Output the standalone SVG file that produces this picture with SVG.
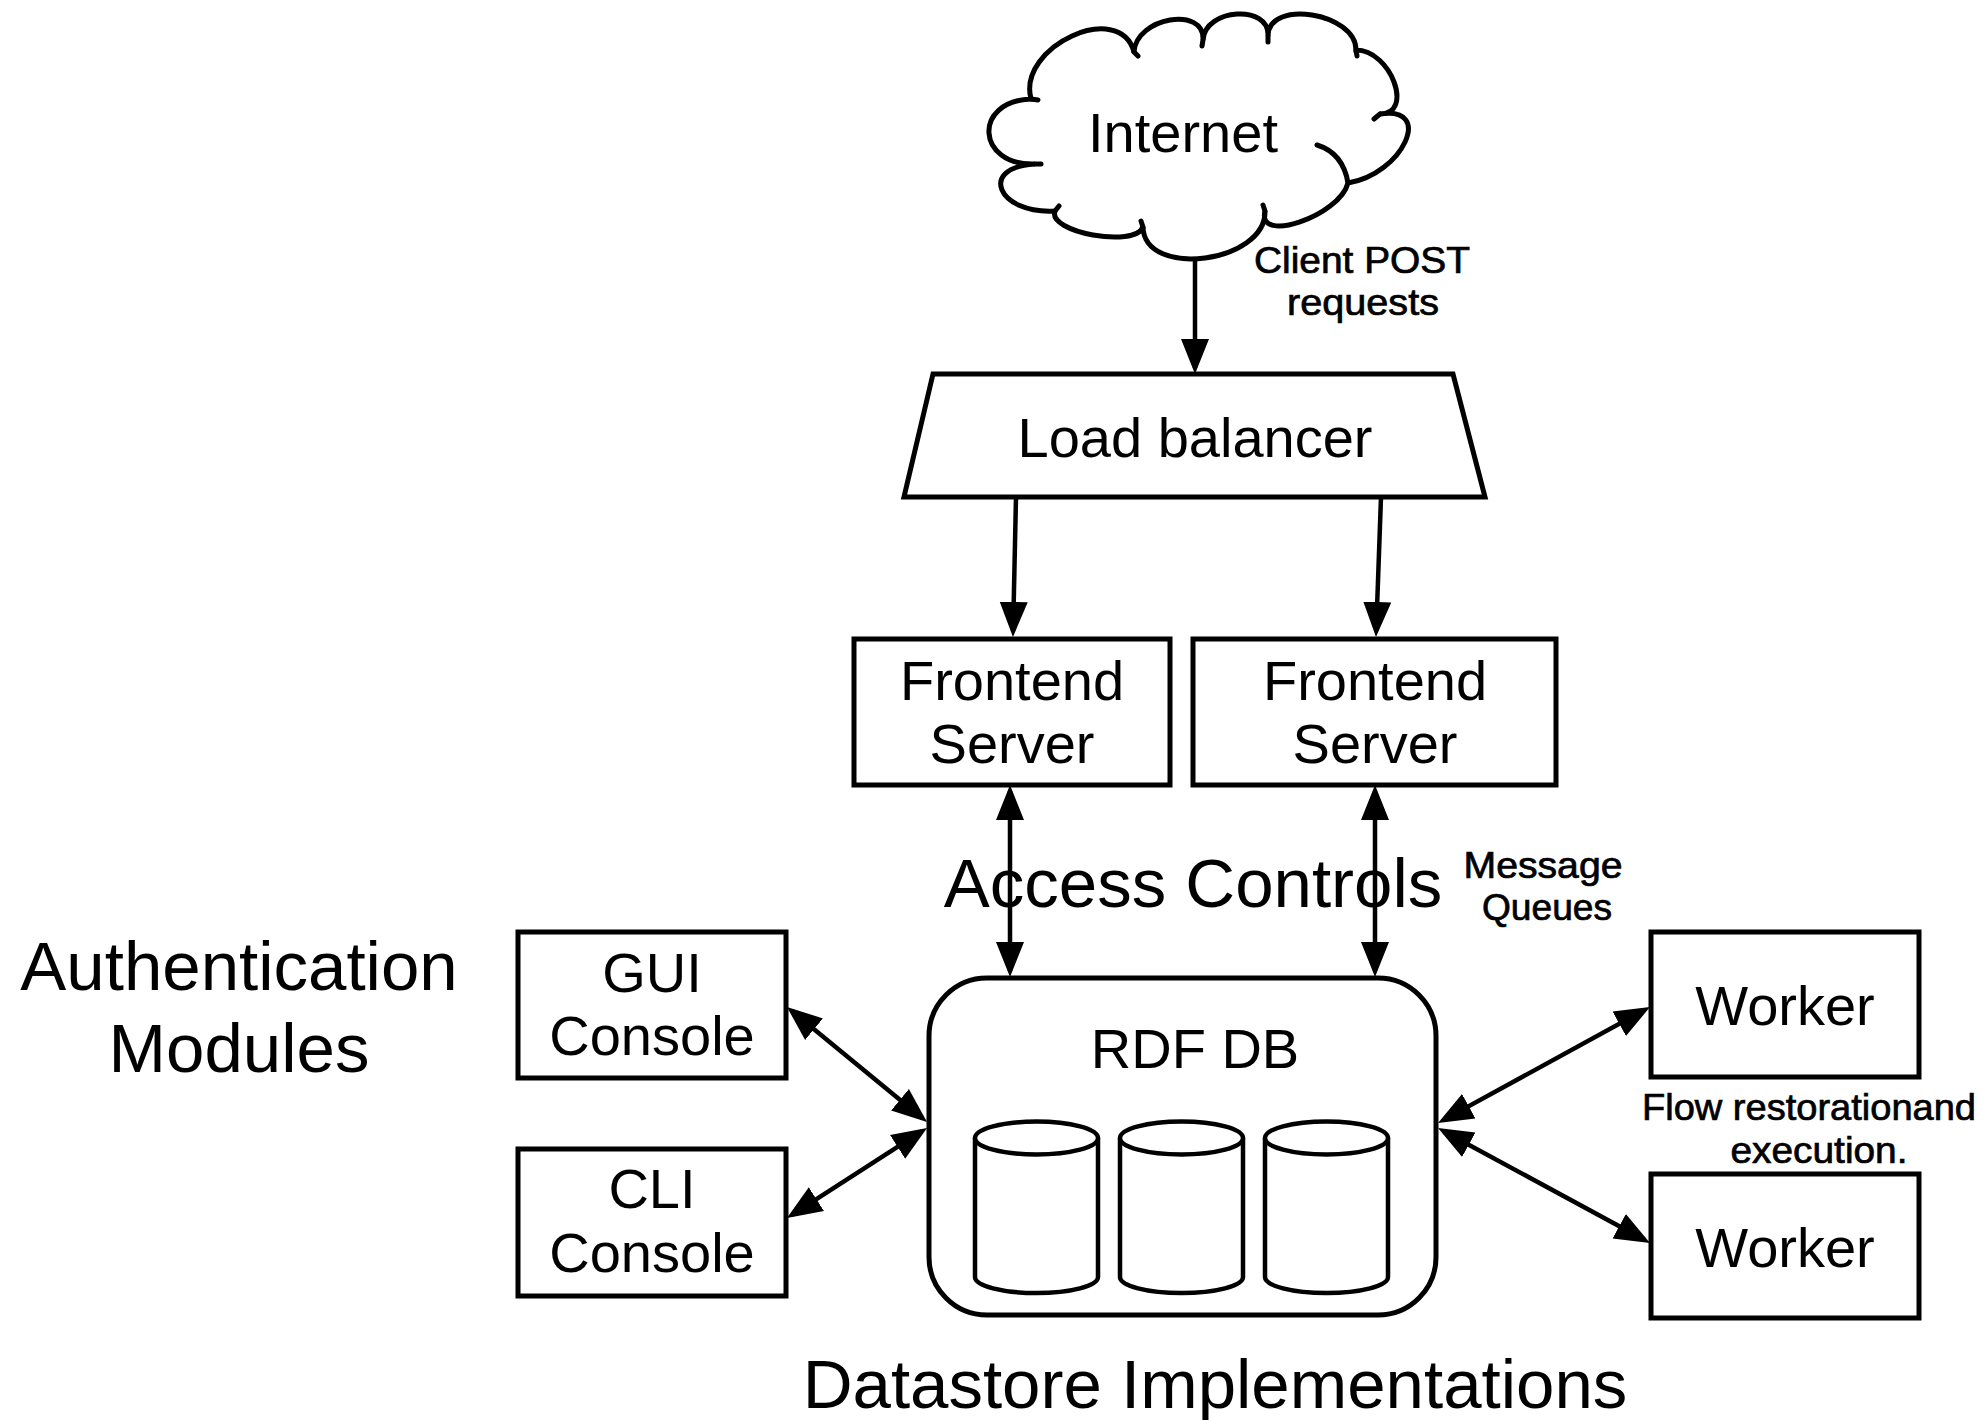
<svg xmlns="http://www.w3.org/2000/svg" width="1985" height="1420" viewBox="0 0 1985 1420">
  <style>
    .box { fill: #fff; stroke: #000; stroke-width: 5; }
    .cyl { fill: #fff; stroke: #000; stroke-width: 4.5; }
    .conn { fill: none; stroke: #000; stroke-width: 4.5; }
    .stub { fill: none; stroke: #000; stroke-width: 5; stroke-linecap: round; }
    text { font-family: "Liberation Sans", Arial, sans-serif; fill: #000; text-anchor: middle; }
    .lbl { font-size: 56px; }
    .note { font-size: 69px; }
    .small { font-size: 36px; stroke: #000; stroke-width: 0.7; }
  </style>
  <defs>
    <marker id="ah" markerUnits="userSpaceOnUse" markerWidth="36" markerHeight="30" viewBox="0 0 36 30" refX="29" refY="15" orient="auto-start-reverse">
      <path d="M0,1 L35,15 L0,29 Z" fill="#000"/>
    </marker>
  </defs>
  <rect width="1985" height="1420" fill="#fff"/>

  <!-- cloud -->
  <g id="internet">
    <path class="box" d="M1031,99 C1017,46.3 1120,-0.7 1134,52 C1136,17.3 1205,5.3 1203,40 C1205,8 1270,4 1268,36 C1268,-1.3 1356,12.7 1356,50 C1390.7,50 1414.7,114 1380,114 C1434.7,105.3 1402.7,174.3 1348,183 C1339.3,216.3 1256.3,244.3 1265,211 C1266.3,263 1144.3,279 1143,227 C1135,248.3 1047,232.3 1055,211 C997.7,214.3 977.7,167.3 1035,164 C976.3,166 972.3,101 1031,99 Z"/>
    <path class="stub" d="M1031,99 l7,1 M1134,52 l4,4 M1203,40 l-1,6 M1268,36 l0,6 M1356,50 l1,6 M1380,114 l-6,5 M1317,145 Q1343,153 1348,183 M1265,211 l-2,-6 M1143,227 l-2,-6 M1055,211 l4,-5 M1035,164 l6,0"/>
    <text class="lbl" x="1183" y="152">Internet</text>
  </g>

  <g id="load-balancer">
    <polygon class="box" points="933,374 1453,374 1485,497 904,497"/>
    <text class="lbl" x="1195" y="457">Load balancer</text>
  </g>

  <g id="frontend-1">
    <rect class="box" x="854" y="639" width="316" height="146"/>
    <text class="lbl" x="1012" y="700">Frontend</text>
    <text class="lbl" x="1012" y="763">Server</text>
  </g>

  <g id="frontend-2">
    <rect class="box" x="1193" y="639" width="363" height="146"/>
    <text class="lbl" x="1375" y="700">Frontend</text>
    <text class="lbl" x="1375" y="763">Server</text>
  </g>

  <g id="gui-console">
    <rect class="box" x="518" y="932" width="268" height="146"/>
    <text class="lbl" x="652" y="992">GUI</text>
    <text class="lbl" x="652" y="1055">Console</text>
  </g>

  <g id="cli-console">
    <rect class="box" x="518" y="1149" width="268" height="147"/>
    <text class="lbl" x="652" y="1208">CLI</text>
    <text class="lbl" x="652" y="1272">Console</text>
  </g>

  <g id="rdf-db">
    <rect class="box" x="929" y="978" width="507" height="337" rx="58" ry="58"/>
    <text class="lbl" x="1195" y="1068">RDF DB</text>
    <path class="cyl" d="M975,1138 V1277 A61.5,16 0 0 0 1098,1277 V1138"/>
    <ellipse class="cyl" cx="1036.5" cy="1138" rx="61.5" ry="16.5"/>
    <path class="cyl" d="M1120,1138 V1277 A61.5,16 0 0 0 1243,1277 V1138"/>
    <ellipse class="cyl" cx="1181.5" cy="1138" rx="61.5" ry="16.5"/>
    <path class="cyl" d="M1265,1138 V1277 A61.5,16 0 0 0 1388,1277 V1138"/>
    <ellipse class="cyl" cx="1326.5" cy="1138" rx="61.5" ry="16.5"/>
  </g>

  <g id="worker-1">
    <rect class="box" x="1651" y="932" width="268" height="145"/>
    <text class="lbl" x="1785" y="1025">Worker</text>
  </g>

  <g id="worker-2">
    <rect class="box" x="1651" y="1174" width="268" height="144"/>
    <text class="lbl" x="1785" y="1267">Worker</text>
  </g>

  <!-- connectors -->
  <g id="connectors">
    <path class="conn" d="M1195,258 L1195,368" marker-end="url(#ah)"/>
    <path class="conn" d="M1016,497 L1013.1,631" marker-end="url(#ah)"/>
    <path class="conn" d="M1381,497 L1376.2,631" marker-end="url(#ah)"/>
    <path class="conn" d="M1010,791 L1010,971" marker-start="url(#ah)" marker-end="url(#ah)"/>
    <path class="conn" d="M1375,791 L1375,971" marker-start="url(#ah)" marker-end="url(#ah)"/>
    <path class="conn" d="M791.6,1010.8 L922.4,1118.2" marker-start="url(#ah)" marker-end="url(#ah)"/>
    <path class="conn" d="M792,1214.8 L922,1131.2" marker-start="url(#ah)" marker-end="url(#ah)"/>
    <path class="conn" d="M1443.3,1120.1 L1644.7,1009.9" marker-start="url(#ah)" marker-end="url(#ah)"/>
    <path class="conn" d="M1443.3,1130.9 L1644.7,1240.1" marker-start="url(#ah)" marker-end="url(#ah)"/>
  </g>

  <!-- edge labels -->
  <g id="edge-labels">
    <text class="small" x="1362" y="273" textLength="216" lengthAdjust="spacingAndGlyphs">Client POST</text>
    <text class="small" x="1363" y="315" textLength="152" lengthAdjust="spacingAndGlyphs">requests</text>
    <text class="small" x="1543" y="878" textLength="159" lengthAdjust="spacingAndGlyphs">Message</text>
    <text class="small" x="1547" y="920" textLength="130" lengthAdjust="spacingAndGlyphs">Queues</text>
    <text class="small" x="1809" y="1120" textLength="334" lengthAdjust="spacingAndGlyphs">Flow restorationand</text>
    <text class="small" x="1819" y="1163" textLength="177" lengthAdjust="spacingAndGlyphs">execution.</text>
  </g>

  <!-- annotation labels -->
  <g id="annotations">
    <text class="note" x="1193" y="907">Access Controls</text>
    <text class="note" x="239" y="990">Authentication</text>
    <text class="note" x="239" y="1072">Modules</text>
    <text class="note" x="1215" y="1408">Datastore Implementations</text>
  </g>
</svg>
